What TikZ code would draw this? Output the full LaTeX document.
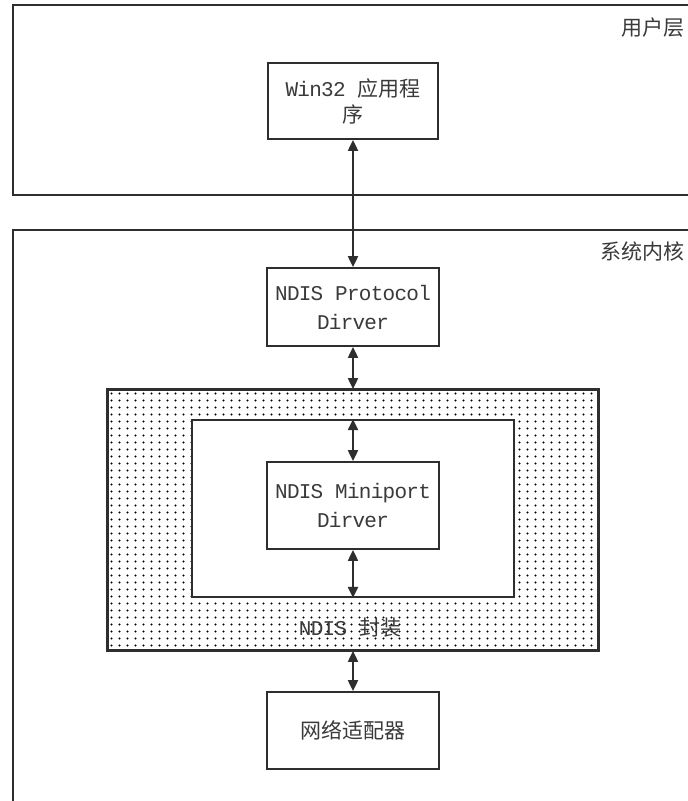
\documentclass[tikz,border=0pt]{standalone}
\usepackage{fontspec}
\setmainfont{Liberation Mono}
\newfontfamily\cjk{Noto Sans CJK SC}
\newfontfamily\lat[LetterSpace=-3.5]{Liberation Mono}
\usetikzlibrary{arrows.meta}
\definecolor{ln}{HTML}{2E2E2E}
\definecolor{tx}{HTML}{3A3A3A}
\newcommand{\cj}[1]{{\cjk\fontsize{21}{27}\selectfont #1}}
\tikzset{
  box/.style={draw=ln, line width=1.8pt, fill=white, inner sep=0pt, align=center,
    text=tx, font=\lat\fontsize{21}{29}\selectfont},
  frame/.style={draw=ln, line width=1.8pt},
  link/.style={draw=ln, line width=2pt, {Triangle[length=11pt,width=10pt]}-{Triangle[length=11pt,width=10pt]}},
  lbl/.style={text=tx, inner sep=0pt, font=\cjk\fontsize{21}{27}\selectfont}
}
\begin{document}
\begin{tikzpicture}[x=1pt,y=-1pt]
\useasboundingbox (0,0) rectangle (688,801);
\clip (0,0) rectangle (688,801);
\fill[white] (0,0) rectangle (688,801);
% layer frames
\draw[frame] (700,5) -- (13,5) -- (13,195) -- (700,195);
\draw[frame] (700,230) -- (13,230) -- (13,815);
\node[lbl, anchor=east] (user) at (685,28) {用户层};
\node[lbl, anchor=east] (kern) at (685,251) {系统内核};
% dotted wrapper
\node[box, minimum width=490pt, minimum height=260pt] (wrap) at (353,520) {};
\begin{scope}
\clip (108,390) rectangle (598,650);
\foreach \i in {0,...,62}{
  \foreach \j in {0,...,37}{
    \fill[black] (111.5+\i*8, 393.5+\j*7) circle (1.1pt);
  }
}
\end{scope}
\draw[ln, line width=1.8pt] (wrap.north west) rectangle (wrap.south east);
\node[box, minimum width=322pt, minimum height=177pt] (inner) at (353,508.5) {};
\node[lbl] (wraplbl) at (350,628) {{\lat\fontsize{21}{29}\selectfont NDIS }封装};
% boxes
\node[box, minimum width=170pt, minimum height=76pt] (win) at (353,101)
  {Win32 \cj{应用程}\\[-3pt]\cj{序}};
\node[box, minimum width=172pt, minimum height=78pt] (proto) at (353,307)
  {NDIS Protocol\\Dirver};
\node[box, minimum width=172pt, minimum height=87pt] (mini) at (353,505.5)
  {NDIS Miniport\\Dirver};
\node[box, minimum width=172pt, minimum height=77pt] (nic) at (353,730.5)
  {\cj{网络适配器}};
% connectors
\draw[link] (win.south) -- (proto.north);
\draw[link] (proto.south) -- (wrap.north);
\draw[link] (inner.north) -- (mini.north);
\draw[link] (mini.south) -- (inner.south);
\draw[link] (wrap.south) -- (nic.north);
\end{tikzpicture}
\end{document}
